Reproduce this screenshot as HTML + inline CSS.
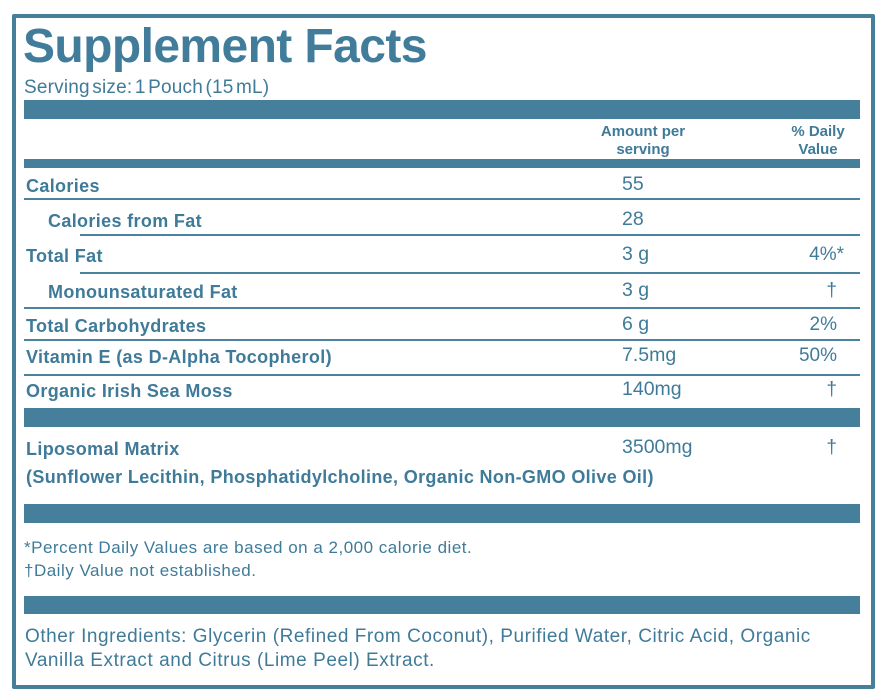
<!DOCTYPE html>
<html><head><meta charset="utf-8"><style>
*{margin:0;padding:0}
body{width:890px;height:700px;background:#fff;position:relative;overflow:hidden;font-family:"Liberation Sans",Arial,sans-serif;color:#3f7b99}
div{position:absolute}
.t{line-height:1;white-space:nowrap}
.bar{background:#467f9c;left:24px;width:836px}
.ln{background:#4a82a0;height:2px}
.b{font-weight:bold}
.v{font-size:19.5px;left:622px}
.r{font-size:18px;font-weight:bold;letter-spacing:0.35px}
.dv{font-size:19px;text-align:right;width:60px;left:777px}
</style></head><body>
<div style="left:12px;top:14px;width:855px;height:667px;border:4px solid #467f9c;border-radius:2px"></div>
<div class="t b" style="left:23px;top:23px;font-size:48px;letter-spacing:-0.6px;color:#417d9b">Supplement Facts</div>
<div class="t" style="left:24px;top:78px;font-size:19px;word-spacing:-3px;letter-spacing:0.2px">Serving size: 1 Pouch (15 mL)</div>
<div class="bar" style="top:100px;height:19px"></div>
<div class="t b" style="left:583px;top:123px;width:120px;text-align:center;font-size:15px;line-height:18px">Amount per<br>serving</div>
<div class="t b" style="left:778px;top:123px;width:80px;text-align:center;font-size:15px;line-height:18px">% Daily<br>Value</div>
<div class="bar" style="top:159px;height:9px"></div>

<div class="t r" style="left:26px;top:177px">Calories</div><div class="t v" style="top:175px">55</div>
<div class="ln" style="left:24px;width:836px;top:198px"></div>
<div class="t r" style="left:48px;top:212px">Calories from Fat</div><div class="t v" style="top:210px">28</div>
<div class="ln" style="left:80px;width:780px;top:234px"></div>
<div class="t r" style="left:26px;top:247px">Total Fat</div><div class="t v" style="top:245px">3 g</div><div class="t dv" style="top:245px;left:784px">4%*</div>
<div class="ln" style="left:80px;width:780px;top:272px"></div>
<div class="t r" style="left:48px;top:283px">Monounsaturated Fat</div><div class="t v" style="top:281px">3 g</div><div class="t dv" style="top:281px">†</div>
<div class="ln" style="left:24px;width:836px;top:307px"></div>
<div class="t r" style="left:26px;top:317px">Total Carbohydrates</div><div class="t v" style="top:315px">6 g</div><div class="t dv" style="top:315px">2%</div>
<div class="ln" style="left:24px;width:836px;top:339px"></div>
<div class="t r" style="left:26px;top:348px">Vitamin E (as D-Alpha Tocopherol)</div><div class="t v" style="top:346px">7.5mg</div><div class="t dv" style="top:346px">50%</div>
<div class="ln" style="left:24px;width:836px;top:374px"></div>
<div class="t r" style="left:26px;top:382px">Organic Irish Sea Moss</div><div class="t v" style="top:380px">140mg</div><div class="t dv" style="top:380px">†</div>
<div class="bar" style="top:408px;height:19px"></div>
<div class="t r" style="left:26px;top:440px">Liposomal Matrix</div><div class="t v" style="top:438px">3500mg</div><div class="t dv" style="top:438px">†</div>
<div class="t r" style="left:26px;top:468px">(Sunflower Lecithin, Phosphatidylcholine, Organic Non-GMO Olive Oil)</div>
<div class="bar" style="top:504px;height:19px"></div>
<div class="t" style="left:24px;top:539px;font-size:17px;letter-spacing:0.5px">*Percent Daily Values are based on a 2,000 calorie diet.</div>
<div class="t" style="left:24px;top:562px;font-size:17px;letter-spacing:0.5px">†Daily Value not established.</div>
<div class="bar" style="top:596px;height:18px"></div>
<div class="t" style="left:25px;top:627px;font-size:19px;letter-spacing:0.55px">Other Ingredients: Glycerin (Refined From Coconut), Purified Water, Citric Acid, Organic</div>
<div class="t" style="left:25px;top:651px;font-size:19px;letter-spacing:0.55px">Vanilla Extract and Citrus (Lime Peel) Extract.</div>
</body></html>
